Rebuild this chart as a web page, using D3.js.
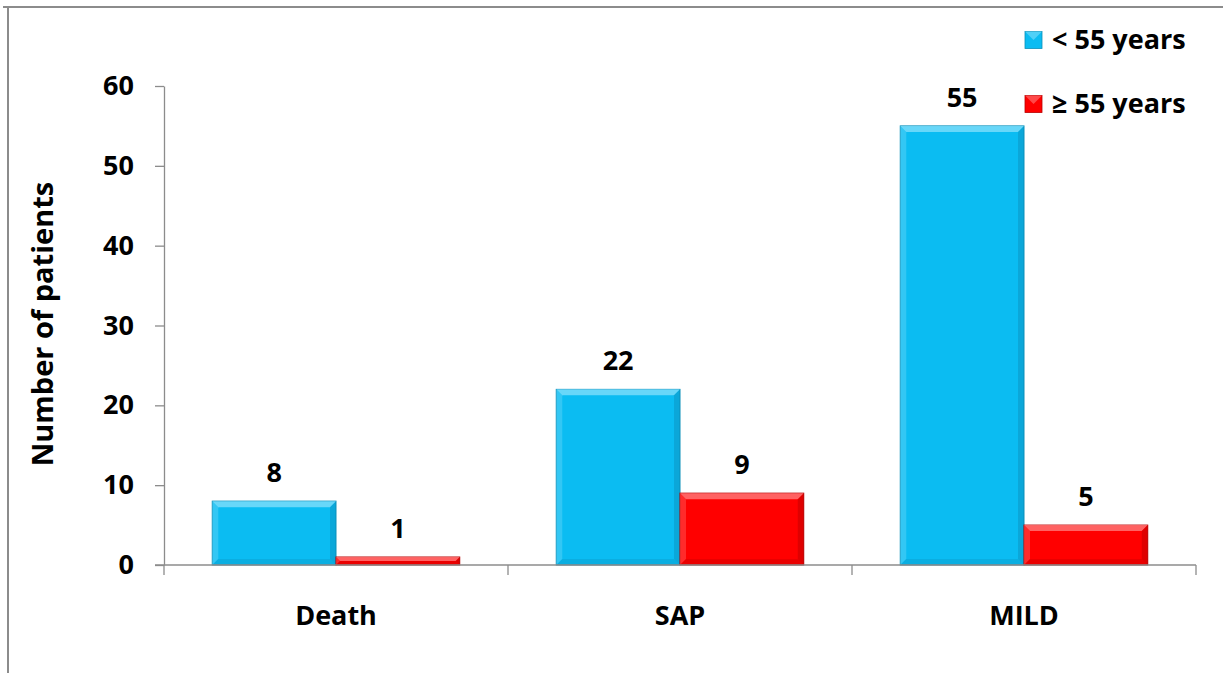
<!DOCTYPE html>
<html><head><meta charset="utf-8">
<script src="https://cdn.jsdelivr.net/npm/d3@7"></script>
<style>html,body{margin:0;padding:0;background:#fff;}svg{display:block;}</style>
</head><body>
<svg id="c" width="1223" height="673"></svg>
<script>
const categories = ["Death", "SAP", "MILD"];
const seriesNames = ["< 55 years", "\u2265 55 years"];
const under55 = [8, 22, 55];
const over55 = [1, 9, 5];
const yTicks = [0, 10, 20, 30, 40, 50, 60];

const colors = ["#0BBCF2", "#FF0000"];
const edge = ["#0A8FBA", "#B80000"];
const light = ["#7FDDFA", "#FF7A7A"];

const svg = d3.select("#c");
const font = "'Open Sans', Lato, sans-serif";
const fs = 27;

// frame
svg.append("line").attr("x1", 8).attr("x2", 8).attr("y1", 7).attr("y2", 673).attr("stroke", "#8c8c8c").attr("stroke-width", 2);
svg.append("line").attr("x1", 3).attr("x2", 1223).attr("y1", 7).attr("y2", 7).attr("stroke", "#8c8c8c").attr("stroke-width", 2);

const pLeft = 164, pRight = 1196, pTop = 86, pBottom = 565;
const x0 = d3.scaleBand().domain(categories).range([pLeft, pRight]).paddingInner(0).paddingOuter(0);
const y = d3.scaleLinear().domain([0, 60]).range([pBottom, pTop]);
const x1 = d3.scaleBand().domain([0, 1]).range([0, x0.bandwidth()]).paddingOuter(0.39).paddingInner(0);

// y axis
const ya = svg.append("g").attr("transform", `translate(${pLeft},0)`)
  .call(d3.axisLeft(y).tickValues(yTicks).tickSize(9).tickSizeOuter(0).tickPadding(21));
ya.select(".domain").attr("stroke", "#8c8c8c").attr("stroke-width", 1.3);
ya.selectAll(".tick line").attr("stroke", "#8c8c8c").attr("stroke-width", 1.3);
ya.selectAll("text").attr("font-family", font).attr("font-weight", "bold").attr("font-size", fs).attr("fill", "#000");

// bars
const data = categories.map((c, i) => ({c, vals: [under55[i], over55[i]]}));
const g = svg.append("g");
data.forEach(d => {
  d.vals.forEach((v, s) => {
    const bx = x0(d.c) + x1(s), bw = x1.bandwidth();
    const by = y(v), bh = y(0) - y(v);
    const bg = g.append("g");
    bg.append("rect").attr("x", bx).attr("y", by).attr("width", bw).attr("height", bh)
      .attr("fill", colors[s]).attr("stroke", edge[s]).attr("stroke-width", 1);
    const b = Math.min(6, bh / 2);
    bg.append("polygon").attr("points", `${bx},${by} ${bx+bw},${by} ${bx+bw-b},${by+b} ${bx+b},${by+b}`)
      .attr("fill", light[s]).attr("opacity", 0.8);
    bg.append("polygon").attr("points", `${bx},${by} ${bx+b},${by+b} ${bx+b},${by+bh-b} ${bx},${by+bh}`)
      .attr("fill", light[s]).attr("opacity", 0.35);
    bg.append("polygon").attr("points", `${bx+bw},${by} ${bx+bw},${by+bh} ${bx+bw-b},${by+bh-b} ${bx+bw-b},${by+b}`)
      .attr("fill", edge[s]).attr("opacity", 0.45);
    bg.append("polygon").attr("points", `${bx},${by+bh} ${bx+bw},${by+bh} ${bx+bw-b},${by+bh-b} ${bx+b},${by+bh-b}`)
      .attr("fill", edge[s]).attr("opacity", 0.3);
    bg.append("text").attr("x", bx + bw / 2).attr("y", by - 19).attr("text-anchor", "middle")
      .attr("font-family", font).attr("font-weight", "bold").attr("font-size", fs).text(v);
  });
});

// x axis
const xa = svg.append("g").attr("transform", `translate(0,${pBottom})`);
xa.append("line").attr("x1", pLeft - 9).attr("x2", pRight).attr("y1", 0).attr("y2", 0).attr("stroke", "#8c8c8c").attr("stroke-width", 1.3);
const bounds = categories.map(c => x0(c)).concat([x0(categories[categories.length - 1]) + x0.bandwidth()]);
bounds.forEach(bx => xa.append("line").attr("x1", bx).attr("x2", bx).attr("y1", 0).attr("y2", 10).attr("stroke", "#8c8c8c").attr("stroke-width", 1.3));
categories.forEach(c => xa.append("text").attr("x", x0(c) + x0.bandwidth() / 2).attr("y", 60)
  .attr("text-anchor", "middle").attr("font-family", font).attr("font-weight", "bold").attr("font-size", fs).text(c));

// y title
svg.append("text").attr("transform", "translate(53,324) rotate(-90)").attr("text-anchor", "middle")
  .attr("font-family", font).attr("font-weight", "bold").attr("font-size", 29).text("Number of patients");

// legend
const legY = [40, 104];
seriesNames.forEach((n, i) => {
  const lg = svg.append("g").attr("transform", `translate(1025,${legY[i]})`);
  lg.append("rect").attr("x", 0).attr("y", -8.5).attr("width", 17).attr("height", 17).attr("fill", colors[i]).attr("stroke", edge[i]).attr("stroke-width", 0.8);
  lg.append("polygon").attr("points", "0,-8.5 17,-8.5 8.5,0").attr("fill", light[i]).attr("opacity", 0.6);
  lg.append("text").attr("x", 27).attr("y", 9).attr("font-family", font).attr("font-weight", "bold").attr("font-size", fs).text(n);
});
</script>
</body></html>
